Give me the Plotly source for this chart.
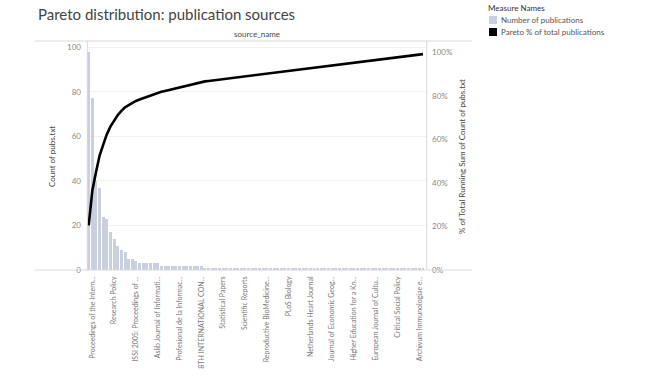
import numpy as np
import plotly.graph_objects as go

# ---- data ----
ranks = list(range(1, 94))
counts = [98, 77, 40, 37, 24, 23, 17, 14, 11, 9, 8, 5, 5, 4,
          3, 3, 3, 3, 3, 3,
          2, 2, 2, 2, 2, 2, 2, 2, 2, 2, 2, 2,
          1, 1, 1, 1, 1, 1, 1, 1, 1, 1, 1, 1, 1, 1, 1, 1, 1, 1, 1, 1,
          1, 1, 1, 1, 1, 1, 1, 1, 1, 1, 1, 1, 1, 1, 1, 1, 1, 1, 1, 1,
          1, 1, 1, 1, 1, 1, 1, 1, 1, 1, 1, 1, 1, 1, 1, 1, 1, 1, 1, 1,
          1, 1, 1, 1, 1]
label_ranks = [2, 8, 14, 20, 26, 32, 38, 44, 50, 56, 62, 68, 74, 80, 86, 92]
label_text = ["Proceedings of the Intern...", "Research Policy", "ISSI 2005: Proceedings of ...",
              "Aslib Journal of Informati...", "Profesional de la Informac...", "8TH INTERNATIONAL CON...",
              "Statistical Papers", "Scientific Reports", "Reproductive BioMedicine...",
              "PLoS Biology", "Netherlands Heart Journal", "Journal of Economic Geog...",
              "Higher Education for a Kn...", "European Journal of Cultu...", "Critical Social Policy",
              "Archivum Immunologiae e..."]
left_ticks = [0, 20, 40, 60, 80, 100]
right_ticks = [0, 0.2, 0.4, 0.6, 0.8, 1.0]

pareto = np.cumsum(counts) / np.sum(counts)

# ---- layout geometry (pixels) ----
W, H = 645, 385
L, R, T, B = 87, 218, 41, 115
PW, PH = W - L - R, H - T - B


def px(x):
    return (x - L) / PW


def py(y):
    return (H - B - y) / PH


FONT = "Lato"
BAR = "#c9cfdf"

fig = go.Figure()
fig.add_trace(go.Bar(x=ranks, y=counts, marker=dict(color=BAR, line=dict(width=0)),
                     width=0.82, name="Number of publications", showlegend=False))
fig.add_trace(go.Scatter(x=ranks, y=pareto, yaxis="y2", mode="lines",
                         line=dict(color="black", width=2.6),
                         name="Pareto % of total publications", showlegend=False))

fig.update_layout(
    width=W, height=H,
    margin=dict(l=L, r=R, t=T, b=B, autoexpand=False),
    plot_bgcolor="white", paper_bgcolor="white",
    font=dict(family=FONT, size=8, color="#666"),
    bargap=0,
    xaxis=dict(range=[0.53, 94.1], tickmode="array", tickvals=label_ranks, ticktext=label_text,
               tickangle=-90, tickfont=dict(size=7, color="#777"), showgrid=False,
               zeroline=False, showline=False, ticks="", ticklabelstandoff=4, automargin=False),
    yaxis=dict(range=[0, 102.8], tickvals=left_ticks, showgrid=True, gridcolor="#f0f0f0",
               gridwidth=1, zeroline=False, showline=False, ticks="", automargin=False,
               tickfont=dict(size=8, color="#888"), ticklabelstandoff=5),
    yaxis2=dict(range=[0, 1.052], overlaying="y", side="right", tickvals=right_ticks,
                tickformat=".0%", showgrid=False, zeroline=False, showline=False, ticks="",
                automargin=False, tickfont=dict(size=8, color="#888"), ticklabelstandoff=4),
)

line_col = "#d9d9d9"
shapes = [
    dict(type="line", xref="paper", yref="paper", x0=px(35), x1=px(472), y0=py(41), y1=py(41),
         line=dict(color=line_col, width=1)),
    dict(type="line", xref="paper", yref="paper", x0=px(35), x1=px(472), y0=py(270), y1=py(270),
         line=dict(color=line_col, width=1)),
    dict(type="line", xref="paper", yref="paper", x0=px(87.3), x1=px(87.3), y0=py(41), y1=py(270),
         line=dict(color=line_col, width=1)),
    dict(type="line", xref="paper", yref="paper", x0=px(426.7), x1=px(426.7), y0=py(41), y1=py(270),
         line=dict(color=line_col, width=1)),
    dict(type="rect", xref="paper", yref="paper", x0=px(489), x1=px(497), y0=py(16), y1=py(24),
         fillcolor=BAR, line=dict(width=0)),
    dict(type="rect", xref="paper", yref="paper", x0=px(489), x1=px(497), y0=py(28), y1=py(36),
         fillcolor="black", line=dict(width=0)),
]
fig.update_layout(shapes=shapes)

ann = [
    dict(text="Pareto distribution: publication sources", x=px(36), y=py(14), xanchor="left",
         yanchor="middle", font=dict(size=15, color="#444")),
    dict(text="source_name", x=px(256.5), y=py(34), xanchor="center", yanchor="middle",
         font=dict(size=8, color="#444")),
    dict(text="Count of pubs.txt", x=px(52), y=py(157), textangle=-90, xanchor="center",
         yanchor="middle", font=dict(size=8, color="#444")),
    dict(text="% of Total Running Sum of Count of pubs.txt", x=px(462), y=py(157), textangle=-90,
         xanchor="center", yanchor="middle", font=dict(size=8, color="#444")),
    dict(text="Measure Names", x=px(486), y=py(8), xanchor="left", yanchor="middle",
         font=dict(size=8, color="#333")),
    dict(text="Number of publications", x=px(499), y=py(20), xanchor="left", yanchor="middle",
         font=dict(size=8, color="#555")),
    dict(text="Pareto % of total publications", x=px(499), y=py(32), xanchor="left", yanchor="middle",
         font=dict(size=8, color="#555")),
]
for a in ann:
    a.update(xref="paper", yref="paper", showarrow=False)
fig.update_layout(annotations=ann)

fig.write_html("out.html", post_script="document.body.style.margin='0px';",
               config={"displayModeBar": False})
